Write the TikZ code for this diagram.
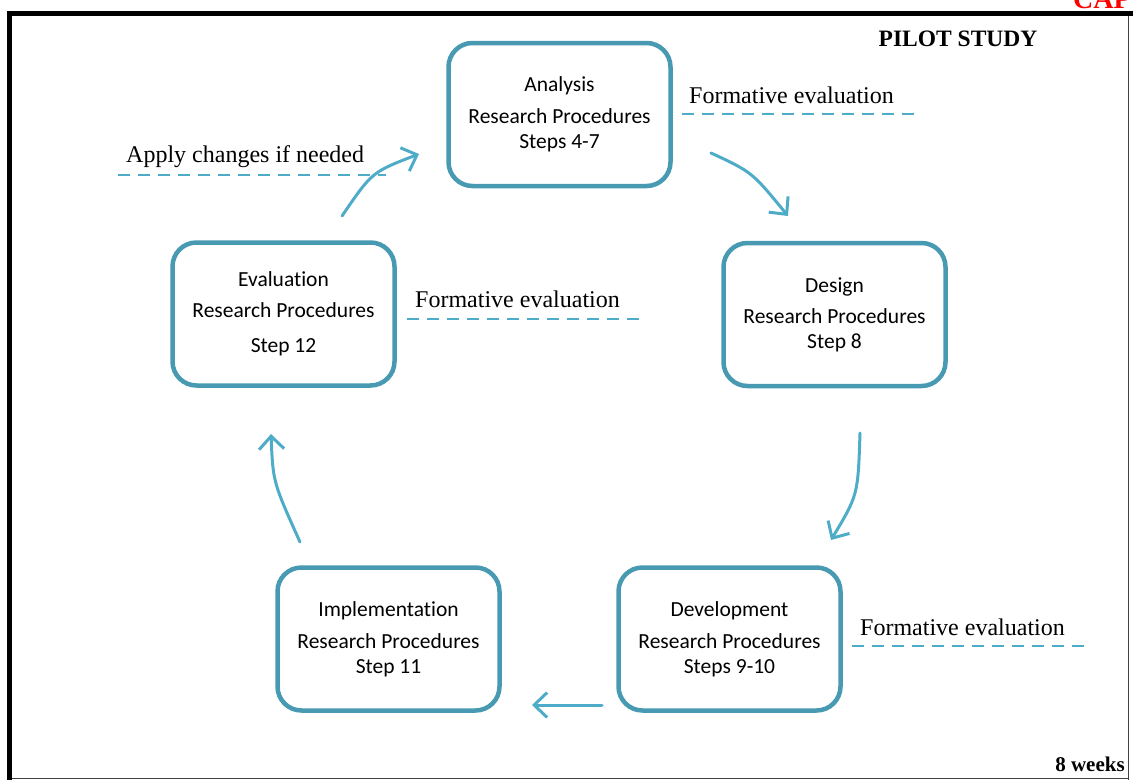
\documentclass[tikz,border=0pt]{standalone}
\usepackage{fontspec}
\setmainfont{Liberation Serif}
\newfontfamily\boxfont[Ligatures=NoCommon]{Carlito}
\usetikzlibrary{arrows.meta}

\definecolor{boxline}{RGB}{72,154,178}
\definecolor{flowline}{RGB}{78,172,200}

\tikzset{
  phase/.style={draw=boxline, line width=4.5pt, rounded corners=24pt,
    minimum width=222pt, minimum height=143pt, align=center,
    font=\boxfont\fontsize{21.5}{25}\selectfont},
  flow/.style={draw=flowline, line width=3pt, line cap=round,
    -{Straight Barb[length=13pt,width=25pt,line width=3pt]}},
  dashrule/.style={draw=flowline, line width=2pt, dash pattern=on 12pt off 8pt},
  note/.style={font=\fontsize{24}{28}\selectfont, inner sep=0pt, anchor=base west},
  tag/.style={font=\bfseries\fontsize{23.5}{26}\selectfont, inner sep=0pt}
}

\begin{document}
\begin{tikzpicture}[x=1pt,y=-1pt]
\useasboundingbox (0,0) rectangle (1133,780);

% page frame
\fill[black] (7,11) rectangle (1133,16);
\fill[black] (7,11) rectangle (12,780);
\draw[black!75, line width=1.5pt] (1128.5,16) -- (1128.5,780);
\draw[black!75, line width=1.5pt] (12,778.5) -- (1128.5,778.5);

% running header, trimmed by the page edge
\begin{scope}
\clip (0,0) rectangle (1133,780);
\node[font=\bfseries\fontsize{28}{30}\selectfont, text=red, inner sep=0pt, anchor=base west] (hdr) at (1073,8) {CAP};
\end{scope}

\node[tag] (pilot) at (958,39) {PILOT STUDY};
\node[tag, font=\bfseries\fontsize{21}{24}\selectfont] (weeks) at (1090,764) {8 weeks};

% the five phases
\node[phase] (ana) at (559.5,114.5) {Analysis\\[7pt]Research Procedures\\Steps 4-7};
\node[phase] (des) at (834.5,314.5) {Design\\[6pt]Research Procedures\\Step 8};
\node[phase] (dev) at (729.5,639) {Development\\[7pt]Research Procedures\\Steps 9-10};
\node[phase] (imp) at (388.5,639) {Implementation\\[7pt]Research Procedures\\Step 11};
\node[phase] (eva) at (283.5,314) {Evaluation\\[6pt]Research Procedures\\[10pt]Step 12};

% arrow end points between the phases
\coordinate (a1) at (711,153);  \coordinate (a2) at (788,216);
\coordinate (b1) at (860,433);  \coordinate (b2) at (831,540);
\coordinate (c1) at (602,705);  \coordinate (c2) at (532,705);
\coordinate (d1) at (300,542);  \coordinate (d2) at (271,434);
\coordinate (e1) at (342,216);  \coordinate (e2) at (419,154);

\draw[flow] (a1) .. controls (752,172) .. (a2);
\draw[flow] (b1) .. controls (858,495) .. (b2);
\draw[flow] (c1) -- (c2);
\draw[flow] (d1) .. controls (273,482) .. (d2);
\draw[flow] (e1) .. controls (372,172) .. (e2);

% notes with dashed rules
\node[note] (n1) at (689,103) {Formative evaluation};
\coordinate (r1a) at (682,114); \coordinate (r1b) at (916,114);
\draw[dashrule] (r1a) -- (r1b);

\node[note] (n2) at (126,162) {Apply changes if needed};
\coordinate (r2a) at (118,175); \coordinate (r2b) at (386,175);
\draw[dashrule] (r2a) -- (r2b);

\node[note] (n3) at (415,307) {Formative evaluation};
\coordinate (r3a) at (407,319); \coordinate (r3b) at (642,319);
\draw[dashrule] (r3a) -- (r3b);

\node[note] (n4) at (860,635) {Formative evaluation};
\coordinate (r4a) at (852,646); \coordinate (r4b) at (1087,646);
\draw[dashrule] (r4a) -- (r4b);
\end{tikzpicture}
\end{document}
